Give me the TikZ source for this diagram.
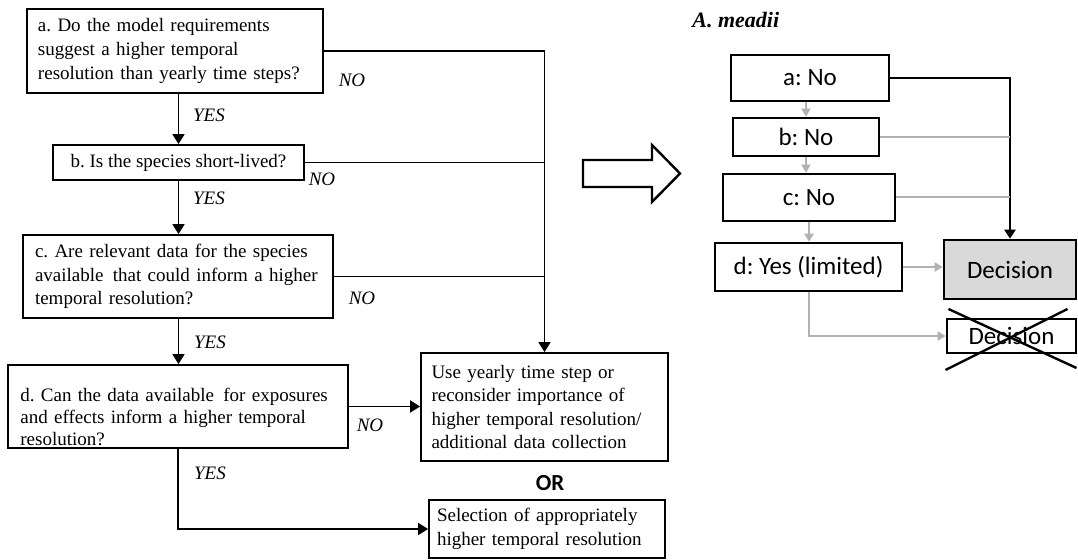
\documentclass[tikz,border=0pt]{standalone}
\usepackage{fontspec}
\setmainfont{Liberation Serif}
\newfontfamily\calfont{Carlito}
\usetikzlibrary{arrows.meta,calc}
\definecolor{lgray}{RGB}{178,178,178}
\definecolor{dfill}{RGB}{217,217,217}
\frenchspacing
\hyphenpenalty=10000
\begin{document}
\begin{tikzpicture}[x=0.5pt,y=-0.5pt,
  qbox/.style={draw=black, line width=0.9pt, inner sep=0pt, font=\fontsize{9.5}{11.8}\selectfont},
  qtxt/.style={inner sep=0pt, align=left, font=\fontsize{9.5}{11}\selectfont},
  lab/.style={inner sep=0pt, font=\fontsize{9.5}{11.2}\selectfont\itshape},
  rbox/.style={draw=black, line width=1.3pt, inner sep=0pt, font=\calfont\fontsize{12.5}{14}\selectfont},
  conn/.style={line width=0.9pt},
  carr/.style={conn, -{Triangle[width=6pt,length=5pt]}},
  gconn/.style={draw=lgray, line width=1pt},
  garr/.style={gconn, -{Triangle[width=4.5pt,length=4pt]}},
  barr/.style={line width=1.1pt, -{Triangle[width=5.5pt,length=4.5pt]}}
]
\useasboundingbox (0,0) rectangle (1078,560);

% ---------- left flowchart ----------
\node[qbox, minimum width=148pt, minimum height=42pt, text width=137pt, inner xsep=5.5pt, align=left] (a) at (175,51)
  {\mbox{a. Do the model requirements}\\\mbox{suggest a higher temporal}\\\mbox{resolution than yearly time steps?}};
\node[qbox, minimum width=125.5pt, minimum height=17.5pt] (b) at (178.5,162.5)
  {b. Is the species short-lived?};
\node[qbox, minimum width=155pt, minimum height=41.5pt, text width=143pt, inner xsep=6pt, align=left] (c) at (178,276.5)
  {\mbox{c. Are relevant data for the species}\\\mbox{available\hspace{1.5pt} that could inform a higher}\\\mbox{temporal resolution?}};
\node[qbox, minimum width=170pt, minimum height=41.5pt] (d) at (178,406.5) {};
\node[qtxt, text width=162pt, anchor=west] (dtext) at (20,417)
  {\mbox{d. Can the data available\hspace{1.5pt} for exposures}\\\mbox{and effects inform a higher temporal}\\\mbox{resolution?}};
\node[qbox, minimum width=123.5pt, minimum height=54pt, text width=113pt, inner xsep=5.25pt, align=left] (use) at (544.5,407)
  {\mbox{Use yearly time step or}\\\mbox{reconsider importance of}\\\mbox{higher temporal resolution/}\\\mbox{additional data collection}};
\node[inner sep=0pt, font=\calfont\bfseries\fontsize{11.5}{13}\selectfont] (or) at (550,483) {OR};
\node[qbox, minimum width=118pt, minimum height=29pt, text width=110pt, inner xsep=4pt, align=left] (sel) at (547,529)
  {\mbox{Selection of appropriately}\\\mbox{higher temporal resolution}};

\draw[carr] (b.north |- a.south) -- (b.north);
\draw[carr] (b.south) -- (c.north -| b.south);
\draw[carr] (c.south -| b.south) -- (d.north -| b.south);
\draw[carr] (a.east) -| (use.north);
\draw[conn] (b.east) -- (b.east -| use.north);
\draw[conn] (c.east) -- (c.east -| use.north);
\draw[carr] (d.east) -- (d.east -| use.west);
\draw[carr] (d.south) |- (sel.west);

\node[lab] (no1) at (352,80) {NO};
\node[lab] (no2) at (322,179) {NO};
\node[lab] (no3) at (362,298) {NO};
\node[lab] (no4) at (370,425) {NO};
\node[lab] (yes1) at (209,115) {YES};
\node[lab] (yes2) at (209,198) {YES};
\node[lab] (yes3) at (210,342) {YES};
\node[lab] (yes4) at (210,473) {YES};

% ---------- hollow arrow ----------
\draw[line width=1.2pt, line join=miter] (583,160) -- (652,160) -- (652,145) -- (680,173.5) -- (652,202) -- (652,187) -- (583,187) -- cycle;

% ---------- right flowchart ----------
\node[anchor=west, inner sep=0pt, font=\fontsize{11}{13}\selectfont\bfseries\itshape] (title) at (692,20) {A. meadii};
\node[rbox, minimum width=79pt, minimum height=23pt] (ra) at (810,78) {a: No};
\node[rbox, minimum width=73pt, minimum height=19pt] (rb) at (806,137) {b: No};
\node[rbox, minimum width=86pt, minimum height=23.5pt] (rc) at (809,197.5) {c: No};
\node[rbox, minimum width=93.5pt, minimum height=24pt] (rd) at (808.5,267) {d: Yes (limited)};
\node[rbox, fill=dfill, minimum width=66pt, minimum height=29.5pt] (dec1) at (1010,269.5) {\raisebox{-2pt}{Decision}};
\node[rbox, minimum width=64.5pt, minimum height=17pt] (dec2) at (1011.5,336) {Decision};

\draw[barr] (ra.east) -| (dec1.north);
\draw[gconn] (rb.east) -- (rb.east -| dec1.north);
\draw[gconn] (rc.east) -- (rc.east -| dec1.north);
\draw[garr] (ra.south -| rb.north) -- (rb.north);
\draw[garr] (rb.south) -- (rc.north -| rb.south);
\draw[garr] (rc.south) -- (rd.north -| rc.south);
\draw[garr] (rd.east) -- (dec1.west |- rd.east);
\draw[garr] (rd.south -| rc.south) |- (dec2.west);

\draw[line width=1.2pt] ($(dec2.center)+(-63,-27)$) -- ($(dec2.center)+(65,32)$);
\draw[line width=1.2pt] ($(dec2.center)+(56,-27)$) -- ($(dec2.center)+(-66,34)$);
\end{tikzpicture}
\end{document}
